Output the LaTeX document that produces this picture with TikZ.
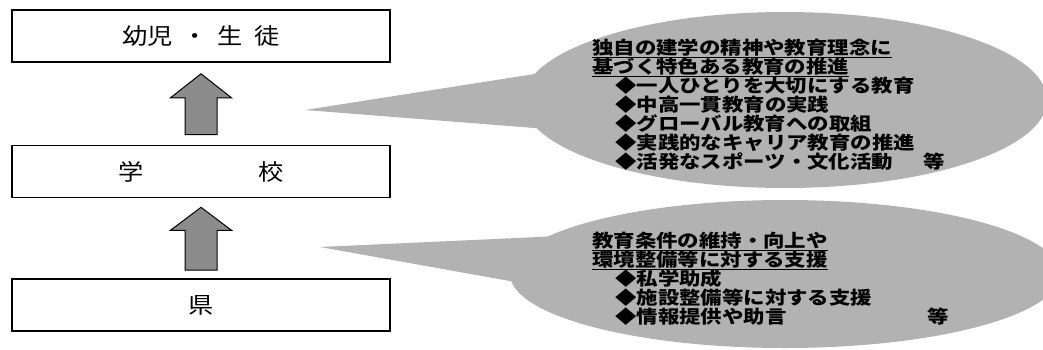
\documentclass[tikz,border=0pt]{standalone}
\usepackage{fontspec}
\newfontfamily\jpbox[FakeStretch=1.12]{Noto Sans CJK JP}
\newfontfamily\jpcall[FakeStretch=1.19]{Noto Sans CJK JP}
\usetikzlibrary{shapes.geometric,calc}
\definecolor{callgray}{gray}{0.70}
\definecolor{arrowgray}{gray}{0.55}
\tikzset{
  box/.style={draw=black, line width=1.6pt, fill=white, minimum width=378pt, minimum height=52pt, inner sep=0pt, font=\jpbox\fontsize{22.5pt}{24pt}\selectfont},
  bubble/.style={ellipse, fill=callgray, draw=none, inner sep=0pt},
  tail/.style={fill=callgray, draw=none},
  ctext/.style={anchor=base west, inner sep=0pt, font=\jpcall\bfseries\fontsize{18pt}{19pt}\selectfont},
  blockarrow/.style={draw=black, line width=1pt, fill=arrowgray, line join=miter},
}
\begin{document}
\begin{tikzpicture}[x=1pt,y=-1pt]
\clip (0,0) rectangle (1043,349);
\fill[white] (0,0) rectangle (1043,349);

% callout 1
\node[bubble, minimum width=524pt, minimum height=176pt] (e1) at (785,100) {};
\coordinate (tip1) at (305,110);
\fill[tail] (tip1) -- (560,70) -- (560,130) -- cycle;
% callout 2
\node[bubble, minimum width=550pt, minimum height=148pt] (e2) at (785,274) {};
\coordinate (tip2) at (320,247);
\fill[tail] (tip2) -- (560,236) -- (560,290) -- cycle;

% boxes
\node[box] (b1) at (201,36) {幼児\hspace{10pt}・\hspace{10pt}生\hspace{12pt}徒\hspace{13pt}};
\node[box] (b2) at (201,171.5) {学\hspace{115pt}校};
\node[box] (b3) at (201,305) {県};

% block arrows
\coordinate (t1) at ($(b1.south)+(0,11)$);
\draw[blockarrow] (t1) -- ($(t1)+(30.5,24)$) -- ($(t1)+(16,24)$) -- ($(b2.north)+(16,-10)$) -- ($(b2.north)+(-16,-10)$) -- ($(t1)+(-16,24)$) -- ($(t1)+(-30.5,24)$) -- cycle;
\coordinate (t2) at ($(b2.south)+(0,9)$);
\draw[blockarrow] (t2) -- ($(t2)+(30.5,23)$) -- ($(t2)+(16,23)$) -- ($(b3.north)+(16,-8)$) -- ($(b3.north)+(-16,-8)$) -- ($(t2)+(-16,23)$) -- ($(t2)+(-30.5,23)$) -- cycle;

% callout 1 text
\node[ctext] (c1a) at (592,54) {\underline{独自の建学の精神や教育理念に}};
\node[ctext] (c1b) at (592,73) {\underline{基づく特色ある教育の推進}};
\node[ctext] (c1c) at (615,92) {◆一人ひとりを大切にする教育};
\node[ctext] (c1d) at (615,111) {◆中高一貫教育の実践};
\node[ctext] (c1e) at (615,130) {◆グローバル教育への取組};
\node[ctext] (c1f) at (615,149) {◆実践的なキャリア教育の推進};
\node[ctext] (c1g) at (615,168) {◆活発なスポーツ・文化活動};
\node[ctext] (c1h) at (923,168) {等};

% callout 2 text
\node[ctext] (c2a) at (592,247) {\underline{教育条件の維持・向上や}};
\node[ctext] (c2b) at (592,266) {\underline{環境整備等に対する支援}};
\node[ctext] (c2c) at (615,285) {◆私学助成};
\node[ctext] (c2d) at (615,304) {◆施設整備等に対する支援};
\node[ctext] (c2e) at (615,323) {◆情報提供や助言};
\node[ctext] (c2f) at (927,323) {等};
\end{tikzpicture}
\end{document}
